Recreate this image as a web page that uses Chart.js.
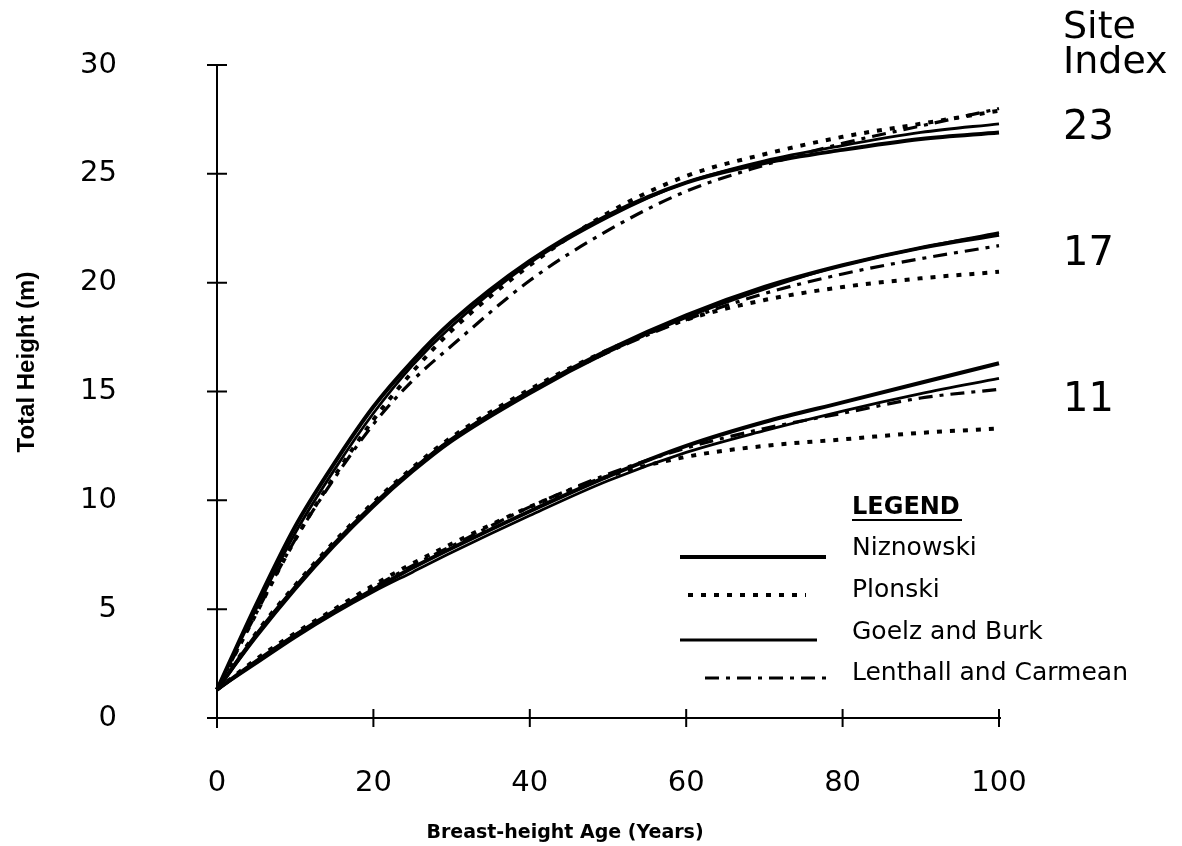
<!DOCTYPE html>
<html>
<head>
<meta charset="utf-8">
<script src="https://cdn.jsdelivr.net/npm/chart.js@4.4.1/dist/chart.umd.min.js"></script>
<style>
  html, body { margin: 0; padding: 0; background: #fff; }
  #wrap { width: 1182px; height: 846px; position: relative; }
</style>
</head>
<body>
<div id="wrap"><canvas id="heightChart"></canvas></div>
<script>
// === DATA ===
const ages = [0, 5, 10, 15, 20, 25, 30, 40, 50, 60, 70, 80, 90, 100];

// site index 23
const niz23 = [1.3, 5.2, 8.8, 11.7, 14.3, 16.4, 18.2, 21.0, 23.1, 24.6, 25.5, 26.1, 26.6, 26.9];
const goe23 = [1.3, 5.0, 8.5, 11.4, 14.0, 16.2, 18.0, 20.9, 23.0, 24.6, 25.6, 26.3, 26.9, 27.3];
const plo23 = [1.3, 4.8, 8.2, 11.1, 13.7, 15.9, 17.8, 20.8, 23.2, 24.9, 25.9, 26.7, 27.3, 27.9];
const len23 = [1.3, 4.8, 8.2, 11.0, 13.5, 15.5, 17.1, 20.1, 22.4, 24.2, 25.4, 26.4, 27.2, 28.0];

// site index 17
const niz17 = [1.3, 3.8, 6.0, 8.0, 9.8, 11.4, 12.8, 15.0, 16.9, 18.5, 19.8, 20.8, 21.6, 22.2];
const goe17 = [1.3, 3.7, 5.9, 7.9, 9.7, 11.3, 12.7, 14.9, 16.8, 18.4, 19.7, 20.8, 21.6, 22.3];
const plo17 = [1.3, 3.9, 6.1, 8.1, 9.9, 11.5, 12.9, 15.1, 16.9, 18.3, 19.2, 19.8, 20.2, 20.5];
const len17 = [1.3, 3.8, 6.0, 8.0, 9.8, 11.4, 12.8, 15.0, 16.8, 18.3, 19.5, 20.4, 21.1, 21.7];

// site index 11
const niz11 = [1.3, 2.6, 3.8, 4.9, 5.9, 6.9, 7.8, 9.5, 11.1, 12.5, 13.6, 14.5, 15.4, 16.3];
const goe11 = [1.3, 2.5, 3.7, 4.8, 5.8, 6.7, 7.6, 9.3, 10.9, 12.2, 13.2, 14.1, 14.9, 15.6];
const plo11 = [1.3, 2.7, 3.9, 5.0, 6.1, 7.1, 8.0, 9.7, 11.1, 12.0, 12.5, 12.8, 13.1, 13.3];
const len11 = [1.3, 2.6, 3.8, 4.9, 6.0, 7.0, 7.9, 9.7, 11.2, 12.4, 13.3, 14.0, 14.7, 15.1];

const methods = ['Niznowski', 'Plonski', 'Goelz and Burk', 'Lenthall and Carmean'];
const siteIndexes = ['23', '17', '11'];
const xTicks = [0, 20, 40, 60, 80, 100];
const yTicks = [0, 5, 10, 15, 20, 25, 30];

// line look per method
const styles = {
  'Niznowski':            { width: 4,   dash: [] },
  'Plonski':              { width: 4,   dash: [5, 8] },
  'Goelz and Burk':       { width: 2.8, dash: [] },
  'Lenthall and Carmean': { width: 3.2, dash: [14, 7, 4, 7] }
};

const series = {
  '23': [niz23, plo23, goe23, len23],
  '17': [niz17, plo17, goe17, len17],
  '11': [niz11, plo11, goe11, len11]
};

const datasets = [];
siteIndexes.forEach(si => {
  series[si].forEach((vals, i) => {
    const st = styles[methods[i]];
    datasets.push({
      label: methods[i] + ' SI ' + si,
      data: ages.map((a, k) => ({ x: a, y: vals[k] })),
      borderColor: '#000',
      borderWidth: st.width,
      borderDash: st.dash,
      borderCapStyle: 'butt',
      pointRadius: 0,
      cubicInterpolationMode: 'monotone',
      fill: false,
      clip: false
    });
  });
});

// === AXES WITH CROSSING TICKS ===
const crossAxes = {
  id: 'crossAxes',
  beforeDatasetsDraw(chart) {
    const { ctx, scales: { x, y } } = chart;
    const x0 = x.getPixelForValue(0), y0 = y.getPixelForValue(0);
    ctx.save();
    ctx.strokeStyle = '#000';
    ctx.lineWidth = 2;
    ctx.beginPath();
    ctx.moveTo(x0, y.getPixelForValue(30));
    ctx.lineTo(x0, y0 + 10);
    ctx.moveTo(x0 - 10, y0);
    ctx.lineTo(x.getPixelForValue(100) + 2, y0);
    y.ticks.forEach(t => {
      const py = y.getPixelForValue(t.value);
      ctx.moveTo(x0 - 10, py); ctx.lineTo(x0 + 10, py);
    });
    x.ticks.forEach(t => {
      const px = x.getPixelForValue(t.value);
      ctx.moveTo(px, y0 - 9); ctx.lineTo(px, y0 + 9);
    });
    ctx.stroke();
    ctx.restore();
  }
};

// === TEXTS: titles, site index labels, legend ===
const annotations = {
  id: 'annotations',
  afterDraw(chart) {
    const ctx = chart.ctx;
    ctx.save();
    ctx.fillStyle = '#000';
    ctx.strokeStyle = '#000';

    // y title
    ctx.save();
    ctx.translate(27, 362);
    ctx.rotate(-Math.PI / 2);
    ctx.font = 'bold 24px "Liberation Sans"';
    ctx.textAlign = 'center';
    ctx.textBaseline = 'middle';
    ctx.fillText('Total Height (m)', 0, 0);
    ctx.restore();

    // x title
    ctx.font = 'bold 19px "DejaVu Sans"';
    ctx.textAlign = 'center';
    ctx.textBaseline = 'middle';
    ctx.fillText('Breast-height Age (Years)', 565, 833);

    // site index
    ctx.textAlign = 'left';
    ctx.font = '38px "DejaVu Sans"';
    ctx.fillText('Site', 1063, 28);
    ctx.fillText('Index', 1063, 63);
    ctx.font = '40px "DejaVu Sans"';
    const siteY = [129, 255, 401];
    siteIndexes.forEach((s, i) => ctx.fillText(s, 1063, siteY[i]));

    // legend
    ctx.font = 'bold 24px "DejaVu Sans"';
    ctx.fillText('LEGEND', 852, 508);
    ctx.lineWidth = 2;
    ctx.beginPath();
    ctx.moveTo(852, 520); ctx.lineTo(962, 520);
    ctx.stroke();

    ctx.font = '25px "DejaVu Sans"';
    const rowY = [548, 590, 632, 673];
    const lineY = [557, 595, 640, 678];
    const lineX = [[680, 826], [688, 806], [680, 817], [705, 826]];
    methods.forEach((m, i) => {
      const st = styles[m];
      ctx.fillText(m, 852, rowY[i]);
      ctx.lineWidth = st.width;
      ctx.setLineDash(st.dash);
      ctx.beginPath();
      ctx.moveTo(lineX[i][0], lineY[i]);
      ctx.lineTo(lineX[i][1], lineY[i]);
      ctx.stroke();
      ctx.setLineDash([]);
    });
    ctx.restore();
  }
};

// === CREATE CHART ===
const ctx = document.getElementById('heightChart').getContext('2d');
const chart = new Chart(ctx, {
  type: 'line',
  data: { datasets },
  options: {
    responsive: true,
    maintainAspectRatio: false,
    animation: false,
    events: [],
    layout: { padding: { left: 0, right: 183, top: 65, bottom: 0 } },
    plugins: {
      legend: { display: false },
      tooltip: { enabled: false }
    },
    scales: {
      x: {
        type: 'linear',
        min: 0,
        max: 100,
        afterBuildTicks: s => { s.ticks = xTicks.map(v => ({ value: v })); },
        afterFit: s => { s.height = 128; },
        // invisible tick marks, only used to push the labels down
        grid: { display: true, drawOnChartArea: false, drawTicks: true, tickLength: 40, color: 'rgba(0,0,0,0)' },
        border: { display: false },
        ticks: {
          padding: 8,
          color: '#000',
          font: { family: 'DejaVu Sans', size: 29 }
        }
      },
      y: {
        type: 'linear',
        min: 0,
        max: 30,
        afterBuildTicks: s => { s.ticks = yTicks.map(v => ({ value: v })); },
        afterFit: s => { s.width = 217; },
        grid: { display: true, drawOnChartArea: false, drawTicks: true, tickLength: 90, color: 'rgba(0,0,0,0)' },
        border: { display: false },
        ticks: {
          padding: 10,
          color: '#000',
          font: { family: 'DejaVu Sans', size: 29 }
        }
      }
    }
  },
  plugins: [crossAxes, annotations]
});
</script>
</body>
</html>
